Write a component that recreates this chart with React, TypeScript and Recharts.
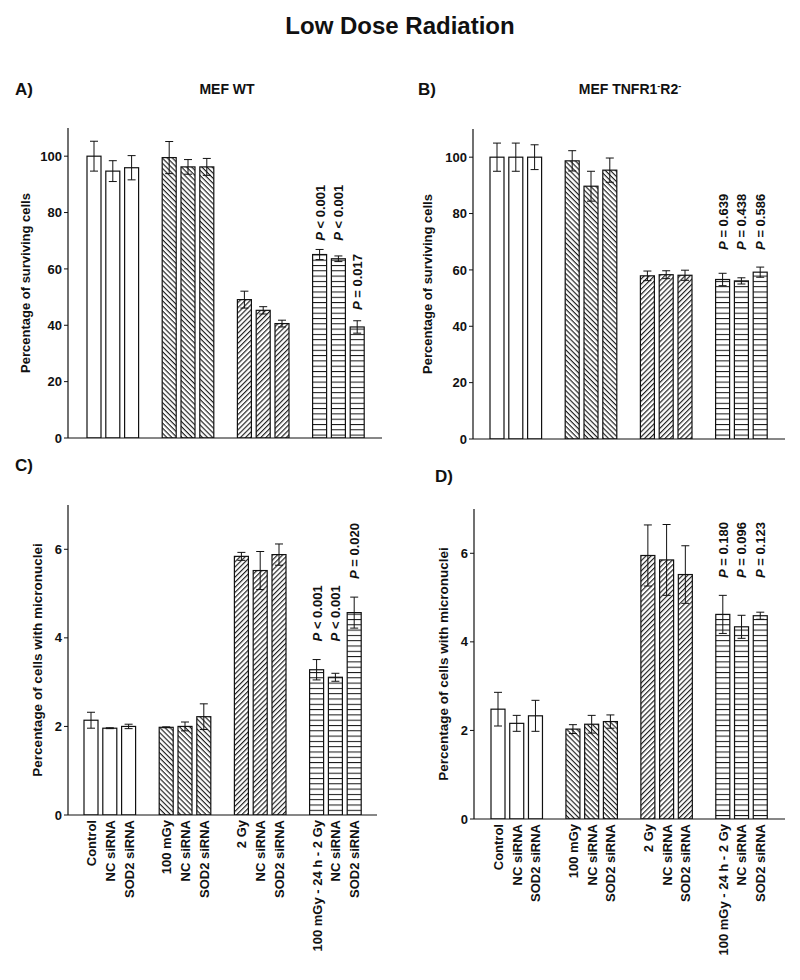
import React from 'react';
import { ComposedChart, Bar, Scatter, XAxis, YAxis, ErrorBar } from 'recharts';

const FONT = '"Liberation Sans", Arial, Helvetica, sans-serif';

const conditions = [
  'Control', 'NC siRNA', 'SOD2 siRNA',
  '100 mGy', 'NC siRNA', 'SOD2 siRNA',
  '2 Gy', 'NC siRNA', 'SOD2 siRNA',
  '100 mGy - 24 h - 2 Gy', 'NC siRNA', 'SOD2 siRNA',
];
// one hatch per treatment group
const hatches = ['open', 'back', 'fwd', 'horiz'];

// A) MEF WT - surviving cells
const survWt = [100, 94.7, 95.9, 99.5, 96.2, 96.2, 49.1, 45.3, 40.6, 65.1, 63.6, 39.4];
const survWtErr = [5.3, 3.7, 4.3, 5.7, 2.6, 3.0, 3.0, 1.3, 1.2, 1.8, 1.0, 2.2];
const survWtP = ['', '', '', '', '', '', '', '', '', '< 0.001', '< 0.001', '= 0.017'];
const survWtPAt = [null, null, null, null, null, null, null, null, null, 70, 70, 45.4];

// B) MEF TNFR1-R2- - surviving cells
const survKo = [100, 100, 100, 98.7, 89.7, 95.4, 57.9, 58.3, 58.1, 56.6, 56.1, 59.2];
const survKoErr = [5.0, 5.0, 4.4, 3.6, 5.3, 4.3, 1.7, 1.4, 1.8, 2.2, 1.1, 1.8];
const survKoP = ['', '', '', '', '', '', '', '', '', '= 0.639', '= 0.438', '= 0.586'];
const survKoPAt = [null, null, null, null, null, null, null, null, null, 67.1, 67.1, 67.1];

// C) MEF WT - micronuclei
const mnWt = [2.14, 1.96, 2.0, 1.98, 2.0, 2.22, 5.84, 5.52, 5.88, 3.28, 3.11, 4.57];
const mnWtErr = [0.18, 0.01, 0.05, 0.01, 0.1, 0.29, 0.09, 0.43, 0.24, 0.23, 0.09, 0.35];
const mnWtP = ['', '', '', '', '', '', '', '', '', '< 0.001', '< 0.001', '= 0.020'];
const mnWtPAt = [null, null, null, null, null, null, null, null, null, 3.92, 3.92, 5.33];

// D) MEF TNFR1-R2- - micronuclei
const mnKo = [2.48, 2.16, 2.33, 2.03, 2.14, 2.2, 5.95, 5.85, 5.52, 4.62, 4.34, 4.59];
const mnKoErr = [0.38, 0.18, 0.35, 0.1, 0.2, 0.15, 0.69, 0.8, 0.65, 0.43, 0.26, 0.08];
const mnKoP = ['', '', '', '', '', '', '', '', '', '= 0.180', '= 0.096', '= 0.123'];
const mnKoPAt = [null, null, null, null, null, null, null, null, null, 5.44, 5.44, 5.44];

const survTicks = [0, 20, 40, 60, 80, 100];
const mnTicks = [0, 2, 4, 6];

function buildRows(values, errs, pTexts, pAt) {
  const rows = [];
  values.forEach((v, i) => {
    const g = Math.floor(i / 3);
    if (i > 0 && i % 3 === 0) {
      rows.push({ id: `gap${g}`, label: '', value: null, err: null, hatch: null, p: '', pAt: null });
    }
    rows.push({ id: `bar${i}`, label: conditions[i], value: v, err: errs[i], hatch: hatches[g], p: pTexts[i], pAt: pAt[i] });
  });
  return rows;
}

const HatchDefs = ({ prefix }) => (
  <defs>
    <pattern id={`${prefix}-back`} patternUnits="userSpaceOnUse" width="3.6" height="3.6" patternTransform="rotate(45)">
      <rect width="3.6" height="3.6" fill="#fff" />
      <line x1="0" y1="0.6" x2="3.6" y2="0.6" stroke="#111" strokeWidth="1.1" />
    </pattern>
    <pattern id={`${prefix}-fwd`} patternUnits="userSpaceOnUse" width="3.6" height="3.6" patternTransform="rotate(-45)">
      <rect width="3.6" height="3.6" fill="#fff" />
      <line x1="0" y1="0.6" x2="3.6" y2="0.6" stroke="#111" strokeWidth="1.1" />
    </pattern>
    <pattern id={`${prefix}-horiz`} patternUnits="userSpaceOnUse" width="6" height="5.3">
      <rect width="6" height="5.3" fill="#fff" />
      <line x1="0" y1="0.5" x2="6" y2="0.5" stroke="#111" strokeWidth="1" />
    </pattern>
  </defs>
);

const PLabel = (props) => {
  const { cx, cy, payload } = props;
  if (!payload || !payload.p || cx == null || cy == null || isNaN(cy)) return <g />;
  return (
    <text
      x={cx}
      y={cy}
      transform={`rotate(-90 ${cx} ${cy})`}
      textAnchor="start"
      dy="0.35em"
      fontFamily={FONT}
      fontWeight="bold"
      fontSize={13}
      fill="#111"
    >
      <tspan fontStyle="italic">P</tspan>
      {` ${payload.p}`}
    </text>
  );
};

const Panel = ({ prefix, rows, left, top, width, height, margin, yWidth, xHeight, padding, domain, ticks, showLabels }) => {
  const barShape = (props) => {
    const { x, y, width: w, height: h, payload } = props;
    if (!payload || payload.value == null) return <g />;
    const fill = payload.hatch === 'open' ? '#fff' : `url(#${prefix}-${payload.hatch})`;
    return <rect x={x} y={y} width={w} height={h} fill={fill} stroke="#111" strokeWidth={1.2} />;
  };

  const labelTick = (props) => {
    const { x, y, payload } = props;
    const row = rows.find((r) => r.id === payload.value);
    if (!row || !row.label) return <g />;
    return (
      <text
        x={x}
        y={y}
        transform={`rotate(-90 ${x} ${y})`}
        textAnchor="end"
        dy="0.35em"
        fontFamily={FONT}
        fontWeight="bold"
        fontSize={13}
        fill="#111"
      >
        {row.label}
      </text>
    );
  };

  return (
    <div style={{ position: 'absolute', left, top }}>
      <ComposedChart width={width} height={height} data={rows} margin={margin}>
        <HatchDefs prefix={prefix} />
        <XAxis
          dataKey="id"
          type="category"
          height={xHeight}
          padding={padding}
          axisLine={{ stroke: '#111', strokeWidth: 1.2 }}
          tickLine={false}
          tickSize={0}
          tickMargin={5}
          interval={0}
          tick={showLabels ? labelTick : false}
        />
        <YAxis
          width={yWidth}
          domain={domain}
          ticks={ticks}
          allowDataOverflow
          axisLine={{ stroke: '#111', strokeWidth: 1.2 }}
          tickLine={{ stroke: '#111' }}
          tickSize={4}
          tick={{ fill: '#111', fontSize: 13, fontWeight: 'bold', fontFamily: FONT }}
        />
        <Bar dataKey="value" barSize={14} shape={barShape} isAnimationActive={false}>
          <ErrorBar dataKey="err" width={4} stroke="#111" strokeWidth={1} />
        </Bar>
        <Scatter dataKey="pAt" shape={PLabel} isAnimationActive={false} />
      </ComposedChart>
    </div>
  );
};

const textStyle = { fontFamily: FONT, fontWeight: 'bold', fill: '#111' };

export default function App() {
  const rowsA = buildRows(survWt, survWtErr, survWtP, survWtPAt);
  const rowsB = buildRows(survKo, survKoErr, survKoP, survKoPAt);
  const rowsC = buildRows(mnWt, mnWtErr, mnWtP, mnWtPAt);
  const rowsD = buildRows(mnKo, mnKoErr, mnKoP, mnKoPAt);

  return (
    <div style={{ position: 'absolute', left: 0, top: 0, width: 800, height: 980, background: '#fff', overflow: 'hidden' }}>
      <Panel
        prefix="pa"
        rows={rowsA}
        left={0}
        top={0}
        width={400}
        height={450}
        margin={{ top: 128, right: 18, bottom: 0, left: 0 }}
        yWidth={68}
        xHeight={12}
        padding={{ left: 17, right: 15 }}
        domain={[0, 110]}
        ticks={survTicks}
        showLabels={false}
      />
      <Panel
        prefix="pb"
        rows={rowsB}
        left={400}
        top={0}
        width={400}
        height={451}
        margin={{ top: 129, right: 15, bottom: 0, left: 0 }}
        yWidth={73}
        xHeight={12}
        padding={{ left: 15, right: 15 }}
        domain={[0, 110]}
        ticks={survTicks}
        showLabels={false}
      />
      <Panel
        prefix="pc"
        rows={rowsC}
        left={0}
        top={460}
        width={400}
        height={520}
        margin={{ top: 45, right: 23, bottom: 0, left: 0 }}
        yWidth={68}
        xHeight={165}
        padding={{ left: 14, right: 13 }}
        domain={[0, 7]}
        ticks={mnTicks}
        showLabels
      />
      <Panel
        prefix="pd"
        rows={rowsD}
        left={400}
        top={460}
        width={400}
        height={520}
        margin={{ top: 49, right: 15, bottom: 0, left: 0 }}
        yWidth={74}
        xHeight={161}
        padding={{ left: 15, right: 15 }}
        domain={[0, 7]}
        ticks={mnTicks}
        showLabels
      />
      <svg width={800} height={980} style={{ position: 'absolute', left: 0, top: 0, pointerEvents: 'none' }}>
        <text x={400} y={34} textAnchor="middle" fontSize={24} {...textStyle}>Low Dose Radiation</text>

        <text x={15} y={95} fontSize={17} {...textStyle}>A)</text>
        <text x={227} y={94} textAnchor="middle" fontSize={14} {...textStyle}>MEF WT</text>
        <text x={418} y={95} fontSize={17} {...textStyle}>B)</text>
        <text x={630} y={94} textAnchor="middle" fontSize={14} {...textStyle}>
          MEF TNFR1<tspan dy={-5} fontSize={9}>-</tspan>
          <tspan dy={5}>R2</tspan>
          <tspan dy={-5} fontSize={9}>-</tspan>
        </text>
        <text x={15} y={471} fontSize={17} {...textStyle}>C)</text>
        <text x={435} y={482} fontSize={17} {...textStyle}>D)</text>

        <text x={25} y={283} transform="rotate(-90 25 283)" textAnchor="middle" dy="0.35em" fontSize={13} {...textStyle}>
          Percentage of surviving cells
        </text>
        <text x={427} y={284} transform="rotate(-90 427 284)" textAnchor="middle" dy="0.35em" fontSize={13} {...textStyle}>
          Percentage of surviving cells
        </text>
        <text x={37} y={660} transform="rotate(-90 37 660)" textAnchor="middle" dy="0.35em" fontSize={13.5} {...textStyle}>
          Percentage of cells with micronuclei
        </text>
        <text x={443} y={664} transform="rotate(-90 443 664)" textAnchor="middle" dy="0.35em" fontSize={13.5} {...textStyle}>
          Percentage of cells with micronuclei
        </text>
      </svg>
    </div>
  );
}
